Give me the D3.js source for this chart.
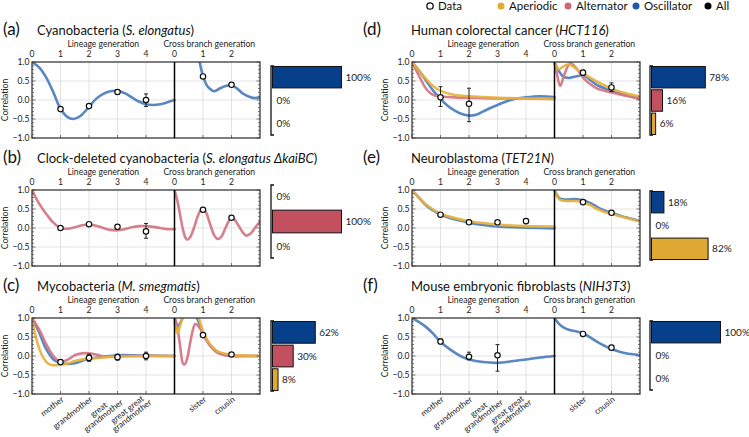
<!DOCTYPE html>
<html><head><meta charset="utf-8">
<script src="https://cdn.jsdelivr.net/npm/d3@7"></script>
<style>
body{margin:0;background:#fff;}
svg{display:block;font-family:Lato,"Open Sans",sans-serif;}
</style></head><body>
<svg id="chart" width="749" height="437"></svg>
<script>
// ---------- shared labels ----------
const lineageTicks = [0, 1, 2, 3, 4];
const crossTicks = [0, 1, 2];
const yTicks = [1.0, 0.5, 0.0, -0.5, -1.0];
const lineageNames = [["mother"], ["grandmother"], ["great", "grandmother"], ["great great", "grandmother"]];
const crossNames = [["sister"], ["cousin"]];
const legendNames = ["Data", "Aperiodic", "Alternator", "Oscillator", "All"];
const barCategories = ["Oscillator", "Alternator", "Aperiodic"];

// ---------- (a) ----------
const titleA = ["Cyanobacteria (", "S. elongatus", ")"];
const aLinOsc = [[0,1.0],[0.25,0.86],[0.5,0.59],[0.75,0.2],[1,-0.23],[1.25,-0.45],[1.45,-0.5],[1.7,-0.42],[2,-0.18],[2.25,0.03],[2.5,0.16],[2.75,0.23],[3,0.24],[3.25,0.18],[3.5,0.07],[3.75,-0.04],[4,-0.11],[4.25,-0.13],[4.5,-0.11],[4.75,-0.06],[5,0.0]];
const aCrossOsc = [[0.5,2.1],[0.75,1.4],[0.88,1.0],[1,0.63],[1.15,0.37],[1.3,0.26],[1.4,0.23],[1.6,0.31],[1.8,0.37],[2,0.39],[2.2,0.3],[2.4,0.17],[2.6,0.09],[2.8,0.05],[3,0.07]];
const aLinData = [[1,-0.24,-0.27,-0.21],[2,-0.16,-0.19,-0.13],[3,0.21,0.15,0.27],[4,0.0,-0.17,0.16]];
const aCrossData = [[1,0.62,0.59,0.65],[2,0.40,0.38,0.42]];
const aShares = [100, 0, 0];

// ---------- (b) ----------
const titleB = ["Clock-deleted cyanobacteria (", "S. elongatus ΔkaiBC", ")"];
const bLinAlt = [[0,1.0],[0.25,0.64],[0.5,0.37],[0.75,0.14],[1,0.0],[1.25,-0.02],[1.5,0.02],[1.75,0.07],[2,0.09],[2.25,0.06],[2.5,0.0],[2.75,-0.05],[3,-0.06],[3.25,-0.03],[3.5,0.02],[3.75,0.05],[4,0.05],[4.25,0.03],[4.5,0.0],[4.75,-0.03],[5,-0.03]];
const bCrossAlt = [[0,1.0],[0.1,0.72],[0.2,0.33],[0.3,-0.05],[0.38,-0.25],[0.45,-0.31],[0.55,-0.24],[0.68,0.0],[0.8,0.28],[0.9,0.45],[1,0.5],[1.1,0.42],[1.25,0.1],[1.4,-0.2],[1.52,-0.29],[1.65,-0.22],[1.8,0.02],[1.92,0.2],[2,0.27],[2.1,0.23],[2.25,0.06],[2.4,-0.12],[2.52,-0.2],[2.65,-0.16],[2.8,-0.02],[2.92,0.1],[3,0.17]];
const bLinData = [[1,0.0,-0.03,0.03],[2,0.1,0.07,0.13],[3,0.03,-0.02,0.08],[4,-0.09,-0.27,0.12]];
const bCrossData = [[1,0.48,0.46,0.5],[2,0.27,0.25,0.29]];
const bShares = [0, 100, 0];

// ---------- (c) ----------
const titleC = ["Mycobacteria (", "M. smegmatis", ")"];
const cLinOsc = [[0,1.0],[0.25,0.62],[0.5,0.18],[0.75,-0.09],[1,-0.18],[1.25,-0.21],[1.5,-0.19],[1.75,-0.13],[2,-0.07],[2.5,-0.02],[3,0.02],[3.5,0.02],[4,0.01],[5,0.0]];
const cLinAlt = [[0,1.0],[0.25,0.7],[0.5,0.31],[0.75,0.0],[1,-0.15],[1.25,-0.1],[1.5,0.02],[1.75,0.07],[2,0.07],[2.25,0.04],[2.5,-0.01],[3,0.0],[4,0.0],[5,0.0]];
const cLinAper = [[0,0.95],[0.12,0.55],[0.25,0.2],[0.4,-0.05],[0.55,-0.19],[0.7,-0.24],[1,-0.23],[1.25,-0.2],[1.5,-0.13],[2,-0.07],[2.5,-0.04],[3,-0.02],[4,0.0],[5,0.0]];
const cCrossOsc = [[0,1.0],[0.07,0.85],[0.14,0.8],[0.22,0.9],[0.28,1.0],[0.4,1.2],[0.55,1.3],[0.7,1.15],[0.79,1.0],[0.9,0.8],[1,0.6],[1.15,0.4],[1.25,0.28],[1.5,0.11],[1.75,0.03],[2,0.0],[2.5,0.0],[3,0.0]];
const cCrossAlt = [[0,1.05],[0.1,0.75],[0.2,0.25],[0.3,-0.2],[0.36,-0.22],[0.45,-0.05],[0.55,0.35],[0.65,0.7],[0.72,0.84],[0.8,0.82],[0.9,0.72],[1,0.57],[1.25,0.27],[1.5,0.09],[1.75,0.03],[2,0.01],[2.5,0.0],[3,0.0]];
const cCrossAper = [[0,0.9],[0.1,0.6],[0.18,0.75],[0.26,0.95],[0.4,1.2],[0.6,1.3],[0.75,1.15],[0.85,1.0],[0.93,0.8],[1,0.64],[1.25,0.31],[1.5,0.13],[2,0.03],[2.5,0.01],[3,0.0]];
const cLinData = [[1,-0.16,-0.22,-0.1],[2,-0.05,-0.14,0.05],[3,-0.03,-0.11,0.05],[4,0.0,-0.1,0.1]];
const cCrossData = [[1,0.55,0.51,0.59],[2,0.04,-0.01,0.09]];
const cShares = [62, 30, 8];

// ---------- (d) ----------
const titleD = ["Human colorectal cancer (", "HCT116", ")"];
const dLinOsc = [[0,1.0],[0.25,0.77],[0.5,0.5],[0.75,0.24],[1,0.03],[1.25,-0.15],[1.5,-0.28],[1.75,-0.37],[2,-0.41],[2.25,-0.39],[2.5,-0.3],[2.75,-0.21],[3,-0.13],[3.5,0.01],[4,0.07],[4.5,0.1],[5,0.08]];
const dLinAlt = [[0,1.0],[0.25,0.63],[0.5,0.29],[0.75,0.13],[1,0.09],[1.5,0.07],[2,0.06],[3,0.04],[4,0.04],[5,0.03]];
const dLinAper = [[0,1.0],[0.25,0.77],[0.5,0.55],[0.75,0.36],[1,0.24],[1.5,0.13],[2,0.1],[2.5,0.08],[3,0.06],[4,0.04],[5,0.03]];
const dCrossOsc = [[0,1.0],[0.15,0.77],[0.3,0.62],[0.5,0.58],[0.75,0.62],[1,0.65],[1.25,0.53],[1.5,0.39],[2,0.24],[2.5,0.13],[3,0.03]];
const dCrossAlt = [[0,1.0],[0.1,0.63],[0.2,0.37],[0.35,0.68],[0.55,0.97],[0.75,0.85],[1,0.59],[1.25,0.42],[1.5,0.3],[2,0.2],[2.5,0.11],[3,0.04]];
const dCrossAper = [[0,1.0],[0.15,0.81],[0.3,0.88],[0.5,0.94],[0.75,0.83],[1,0.7],[1.5,0.48],[2,0.3],[2.5,0.18],[3,0.1]];
const dLinData = [[1,0.07,-0.17,0.35],[2,-0.1,-0.57,0.31]];
const dCrossData = [[1,0.72,0.65,0.78],[2,0.33,0.22,0.45]];
const dShares = [78, 16, 6];

// ---------- (e) ----------
const titleE = ["Neuroblastoma (", "TET21N", ")"];
const eLinOsc = [[0,1.0],[0.25,0.79],[0.5,0.59],[0.75,0.46],[1,0.35],[1.5,0.23],[2,0.14],[2.5,0.08],[3,0.04],[4,0.01],[5,-0.01]];
const eLinAper = [[0,1.0],[0.25,0.8],[0.5,0.61],[0.75,0.48],[1,0.38],[1.5,0.26],[2,0.18],[2.5,0.13],[3,0.09],[4,0.05],[5,0.04]];
const eCrossOsc = [[0,1.0],[0.1,0.85],[0.2,0.77],[0.4,0.75],[0.75,0.76],[1,0.73],[1.25,0.66],[1.5,0.55],[1.75,0.46],[2,0.4],[2.5,0.28],[3,0.18]];
const eCrossAper = [[0,0.98],[0.1,0.82],[0.2,0.74],[0.4,0.71],[0.75,0.71],[1,0.68],[1.25,0.6],[1.5,0.5],[1.75,0.42],[2,0.37],[2.5,0.27],[3,0.17]];
const eLinData = [[1,0.35,0.33,0.37],[2,0.15,0.13,0.17],[3,0.15,0.13,0.17],[4,0.18,0.16,0.2]];
const eCrossData = [[1,0.68,0.66,0.7],[2,0.4,0.38,0.42]];
const eShares = [18, 0, 82];

// ---------- (f) ----------
const titleF = ["Mouse embryonic fibroblasts (", "NIH3T3", ")"];
const fLinOsc = [[0,1.0],[0.25,0.89],[0.5,0.76],[0.75,0.58],[1,0.37],[1.25,0.22],[1.5,0.09],[1.75,-0.02],[2,-0.09],[2.5,-0.16],[3,-0.18],[3.5,-0.14],[4,-0.09],[4.5,-0.04],[5,0.0]];
const fCrossOsc = [[0,1.0],[0.15,0.85],[0.3,0.76],[0.5,0.69],[0.75,0.65],[1,0.6],[1.25,0.49],[1.5,0.37],[1.75,0.27],[2,0.18],[2.25,0.12],[2.5,0.07],[3,0.02]];
const fLinData = [[1,0.38,0.32,0.45],[2,-0.02,-0.1,0.1],[3,0.02,-0.4,0.3]];
const fCrossData = [[1,0.58,0.55,0.61],[2,0.22,0.16,0.28]];
const fShares = [100, 0, 0];

// ---------- layout ----------
const LINE_COLORS = {osc: "#4a7dbd", alt: "#d27584", aper: "#e8b13c"};
const BAR_COLORS = ["#083f8a", "#c2505f", "#dfa832"];
const LEGEND_COLORS = [null, "#e3ac30", "#cc6574", "#1f5aa8", "#000"];
const LW = 142.5, CW = 85.5, PH = 76;
const COLS = [{plotX: 32, labelX: 3, titleX: 37, barX: 271}, {plotX: 412, labelX: 363, titleX: 411, barX: 650}];
const ROWS = [62, 190, 318];

const panels = [
  {label: "(a)", title: titleA, col: 0, row: 0, lin: {osc: aLinOsc}, cross: {osc: aCrossOsc}, linData: aLinData, crossData: aCrossData, shares: aShares, barTop: 66, barH: 69},
  {label: "(b)", title: titleB, col: 0, row: 1, lin: {alt: bLinAlt}, cross: {alt: bCrossAlt}, linData: bLinData, crossData: bCrossData, shares: bShares, barTop: 185, barH: 73},
  {label: "(c)", title: titleC, col: 0, row: 2, lin: {osc: cLinOsc, alt: cLinAlt, aper: cLinAper}, cross: {osc: cCrossOsc, alt: cCrossAlt, aper: cCrossAper}, linData: cLinData, crossData: cCrossData, shares: cShares, barTop: 321, barH: 70},
  {label: "(d)", title: titleD, col: 1, row: 0, lin: {osc: dLinOsc, alt: dLinAlt, aper: dLinAper}, cross: {osc: dCrossOsc, alt: dCrossAlt, aper: dCrossAper}, linData: dLinData, crossData: dCrossData, shares: dShares, barTop: 66, barH: 69},
  {label: "(e)", title: titleE, col: 1, row: 1, lin: {osc: eLinOsc, aper: eLinAper}, cross: {osc: eCrossOsc, aper: eCrossAper}, linData: eLinData, crossData: eCrossData, shares: eShares, barTop: 191, barH: 69},
  {label: "(f)", title: titleF, col: 1, row: 2, lin: {osc: fLinOsc}, cross: {osc: fCrossOsc}, linData: fLinData, crossData: fCrossData, shares: fShares, barTop: 321, barH: 69}
];

const svg = d3.select("#chart");

// legend
const legendX = [430, 501, 568, 636, 708];
const lg = svg.append("g").attr("font-size", 11.5).attr("fill", "#111");
legendNames.forEach((name, i) => {
  if (i === 0) {
    lg.append("circle").attr("cx", legendX[i]).attr("cy", 6).attr("r", 3.2).attr("fill", "#fff").attr("stroke", "#111").attr("stroke-width", 1.3);
  } else {
    lg.append("circle").attr("cx", legendX[i]).attr("cy", 6).attr("r", 3.5).attr("fill", LEGEND_COLORS[i]);
  }
  lg.append("text").attr("x", legendX[i] + 8).attr("y", 10).text(name);
});

const fmt = v => (v < 0 ? "\u2212" : "") + Math.abs(v).toFixed(1);

panels.forEach((p, pi) => {
  const C = COLS[p.col];
  const top = ROWS[p.row];
  const x0 = C.plotX;
  const xl = d3.scaleLinear().domain([0, 5]).range([x0, x0 + LW]);
  const xc = d3.scaleLinear().domain([0, 3]).range([x0 + LW, x0 + LW + CW]);
  const y = d3.scaleLinear().domain([-1, 1]).range([top + PH, top]);
  const right = x0 + LW + CW;
  const g = svg.append("g");

  // label & title
  g.append("text").attr("x", C.labelX).attr("y", top - 27).attr("font-size", 17).attr("fill", "#111").text(p.label);
  const tt = g.append("text").attr("x", C.titleX).attr("y", top - 27.5).attr("font-size", 13).attr("fill", "#111");
  p.title.forEach((s, i) => tt.append("tspan").attr("font-style", i % 2 ? "italic" : "normal").text(s));

  // axis titles
  g.append("text").attr("x", (xl.range()[0] + xl.range()[1]) / 2).attr("y", top - 15).attr("text-anchor", "middle").attr("font-size", 8.6).attr("fill", "#222").text("Lineage generation");
  g.append("text").attr("x", (xc.range()[0] + xc.range()[1]) / 2 - 8).attr("y", top - 15).attr("text-anchor", "middle").attr("font-size", 8.6).attr("fill", "#222").text("Cross branch generation");

  // top tick labels
  lineageTicks.forEach(t => g.append("text").attr("x", xl(t)).attr("y", top - 5).attr("text-anchor", "middle").attr("font-size", 8.6).attr("fill", "#222").text(t));
  crossTicks.forEach(t => g.append("text").attr("x", xc(t)).attr("y", top - 5).attr("text-anchor", "middle").attr("font-size", 8.6).attr("fill", "#222").text(t));

  // y tick labels
  yTicks.forEach(t => g.append("text").attr("x", x0 - 2.5).attr("y", y(t) + 3).attr("text-anchor", "end").attr("font-size", 8.6).attr("fill", "#222").text(fmt(t)));
  g.append("text").attr("transform", `translate(${x0 - 24},${top + PH / 2}) rotate(-90)`).attr("text-anchor", "middle").attr("font-size", 8.6).attr("fill", "#222").text("Correlation");

  // grid
  const grid = g.append("g").attr("stroke", "#dcdcdc").attr("stroke-width", 0.8);
  lineageTicks.slice(1).forEach(t => grid.append("line").attr("x1", xl(t)).attr("x2", xl(t)).attr("y1", top).attr("y2", top + PH));
  crossTicks.slice(1).forEach(t => grid.append("line").attr("x1", xc(t)).attr("x2", xc(t)).attr("y1", top).attr("y2", top + PH));
  [0.5, 0, -0.5].forEach(t => grid.append("line").attr("x1", x0).attr("x2", right).attr("y1", y(t)).attr("y2", y(t)));

  // curves
  const clipId = "clip" + pi;
  svg.append("clipPath").attr("id", clipId).append("rect").attr("x", x0).attr("y", top).attr("width", LW + CW).attr("height", PH);
  const cg = g.append("g").attr("clip-path", `url(#${clipId})`).attr("fill", "none").attr("stroke-width", 2.6).attr("stroke-linecap", "round");
  const order = ["osc", "alt", "aper"];
  const lineL = d3.line().x(d => xl(d[0])).y(d => y(d[1])).curve(d3.curveCatmullRom.alpha(0.5));
  const lineC = d3.line().x(d => xc(d[0])).y(d => y(d[1])).curve(d3.curveCatmullRom.alpha(0.5));
  order.forEach(k => {
    if (p.lin[k]) cg.append("path").attr("d", lineL(p.lin[k])).attr("stroke", LINE_COLORS[k]).attr("stroke-opacity", 0.92);
    if (p.cross[k]) cg.append("path").attr("d", lineC(p.cross[k])).attr("stroke", LINE_COLORS[k]).attr("stroke-opacity", 0.92);
  });

  // frame ticks
  const tk = g.append("g").attr("stroke", "#444").attr("stroke-width", 0.7);
  d3.range(-10, 11).forEach(i => {
    const v = i / 10, len = (i % 5 === 0) ? 3.5 : 2;
    tk.append("line").attr("x1", x0).attr("x2", x0 + len).attr("y1", y(v)).attr("y2", y(v));
    tk.append("line").attr("x1", right).attr("x2", right - len).attr("y1", y(v)).attr("y2", y(v));
  });
  lineageTicks.forEach(t => {
    tk.append("line").attr("x1", xl(t)).attr("x2", xl(t)).attr("y1", top + PH).attr("y2", top + PH - 3);
  });
  crossTicks.forEach(t => {
    tk.append("line").attr("x1", xc(t)).attr("x2", xc(t)).attr("y1", top + PH).attr("y2", top + PH - 3);
  });

  // frame & divider
  g.append("rect").attr("x", x0).attr("y", top).attr("width", LW + CW).attr("height", PH).attr("fill", "none").attr("stroke", "#3a3a3a").attr("stroke-width", 1.3);
  g.append("line").attr("x1", xc(0)).attr("x2", xc(0)).attr("y1", top).attr("y2", top + PH).attr("stroke", "#000").attr("stroke-width", 1.5);

  // data points
  const drawData = (data, xs) => {
    data.forEach(d => {
      const cx = xs(d[0]);
      g.append("line").attr("x1", cx).attr("x2", cx).attr("y1", y(d[2])).attr("y2", y(d[3])).attr("stroke", "#111").attr("stroke-width", 0.9);
      [d[2], d[3]].forEach(v => g.append("line").attr("x1", cx - 2).attr("x2", cx + 2).attr("y1", y(v)).attr("y2", y(v)).attr("stroke", "#111").attr("stroke-width", 0.9));
      g.append("circle").attr("cx", cx).attr("cy", y(d[1])).attr("r", 2.7).attr("fill", "#fff").attr("stroke", "#111").attr("stroke-width", 1.2);
    });
  };
  drawData(p.linData, xl);
  drawData(p.crossData, xc);

  // bottom names
  if (p.row === 2) {
    const addRot = (x, yy, lines) => {
      const rg = g.append("g").attr("transform", `translate(${x},${yy}) rotate(-38)`).attr("font-size", 8.3).attr("fill", "#222");
      const lh = 7.6;
      const texts = lines.map((ln, i) => rg.append("text").attr("text-anchor", "end").attr("y", (i - (lines.length - 1) / 2) * lh + 3).text(ln));
      const widths = texts.map(t => t.node().getComputedTextLength());
      const mw = Math.max(...widths);
      texts.forEach((t, i) => t.attr("x", -(mw - widths[i]) / 2));
    };
    lineageNames.forEach((ln, i) => addRot(xl(i + 1) + 2, top + PH + 4, ln));
    crossNames.forEach((ln, i) => addRot(xc(i + 1) + 2, top + PH + 4, ln));
  }

  // bars
  const bx = C.barX;
  const by = d3.scaleBand().domain(barCategories).range([p.barTop, p.barTop + p.barH]).paddingInner(0.08).paddingOuter(0.02);
  const bw = d3.scaleLinear().domain([0, 100]).range([0, 69]);
  const bg = g.append("g");
  bg.append("path").attr("d", `M${bx + 3},${p.barTop}H${bx}V${p.barTop + p.barH}H${bx + 3}`).attr("fill", "none").attr("stroke", "#111").attr("stroke-width", 1.3);
  barCategories.forEach((c, i) => {
    const v = p.shares[i];
    if (v > 0) {
      bg.append("rect").attr("x", bx + 1.5).attr("y", by(c)).attr("width", bw(v)).attr("height", by.bandwidth()).attr("fill", BAR_COLORS[i]).attr("stroke", "#111").attr("stroke-width", 1);
    }
    bg.append("text").attr("x", bx + 1.5 + bw(v) + 4).attr("y", by(c) + by.bandwidth() / 2 + 3.6).attr("font-size", 10).attr("fill", "#222").text(v + "%");
  });
});
</script>
</body></html>
